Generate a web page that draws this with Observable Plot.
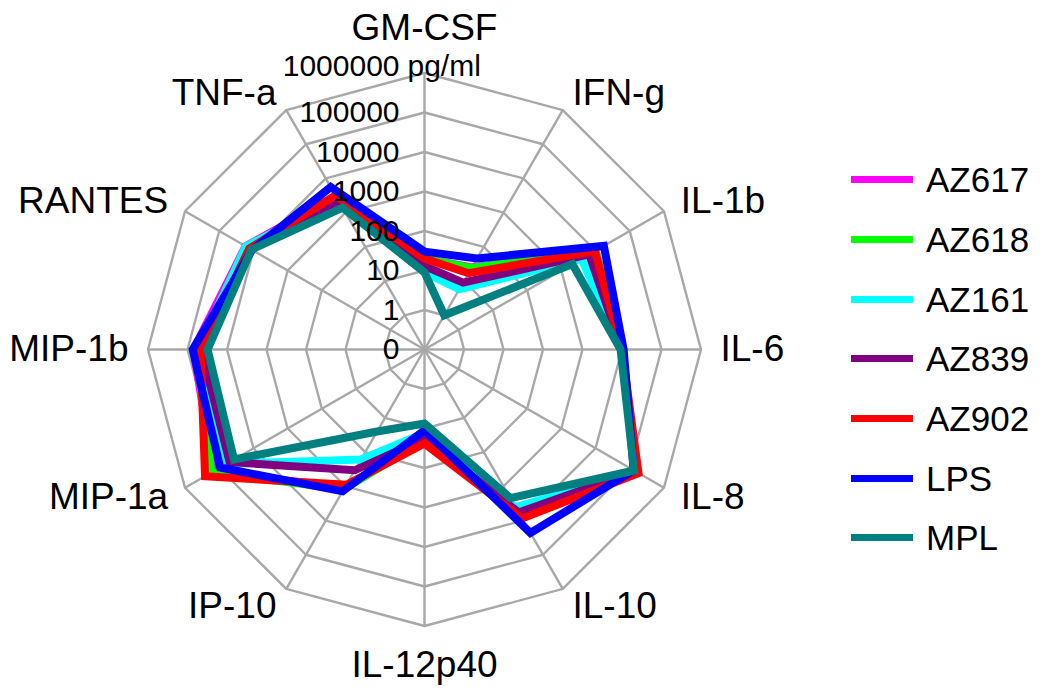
<!DOCTYPE html>
<html>
<head>
<meta charset="utf-8">
<script src="https://cdn.jsdelivr.net/npm/d3@7"></script>
<script src="https://cdn.jsdelivr.net/npm/@observablehq/plot@0.6"></script>
<style>
  body { margin: 0; background: #fff; }
  #wrap { position: relative; width: 1050px; height: 692px; font-family: "Liberation Sans", Arial, sans-serif; }
  #legend { position: absolute; left: 851px; top: 150px; }
  .row { position: relative; height: 59.7px; display: flex; align-items: center; }
  .sw { width: 62px; height: 7px; margin-right: 13px; }
  .lab { font-size: 35px; color: #000; line-height: 1; }
</style>
</head>
<body>
<div id="wrap"><div id="chart"></div><div id="legend"></div></div>
<script>
const axes = ["GM-CSF","IFN-g","IL-1b","IL-6","IL-8","IL-10","IL-12p40","IP-10","MIP-1a","MIP-1b","RANTES","TNF-a"];
const series = ["AZ617","AZ618","AZ161","AZ839","AZ902","LPS","MPL"];
const colors = ["#ff00ff","#00ff00","#00ffff","#800080","#ff0000","#0000ff","#008080"];
const tickValues = [0.1, 1, 10, 100, 1000, 10000, 100000, 1000000];
const tickLabels = ["0","1","10","100","1000","10000","100000","1000000"];
const unitLabel = "pg/ml";

const AZ617 = [20, 25, 10000, 10000, 160000, 8000, 20, 1100, 150000, 70000, 17000, 3000];
const AZ618 = [20, 24, 10000, 10000, 160000, 8500, 20, 1200, 170000, 60000, 14000, 2800];
const AZ161 = [9, 5.8, 3900, 10000, 150000, 4100, 13, 165, 62000, 55000, 16700, 2500];
const AZ839 = [13, 9, 6500, 10000, 145000, 5800, 18, 340, 50000, 45000, 13000, 2000];
const AZ902 = [20, 17, 9600, 10000, 180000, 8700, 24, 900, 260000, 47000, 13000, 3200];
const LPS   = [30, 46, 17500, 11000, 130000, 23000, 11, 1400, 94000, 74000, 11000, 5600];
const MPL   = [9, 1, 2100, 9200, 134000, 2200, 7.5, 25, 37000, 31000, 11500, 1400];
const values = [AZ617, AZ618, AZ161, AZ839, AZ902, LPS, MPL];

// radial scale: log10 value -> radius
const R = d3.scaleLinear().domain([-1, 6]).range([0, 276.5]);
const rad = v => R(Math.log10(v));
const ang = i => i * 2 * Math.PI / axes.length;
const px = (r, i) => r * Math.sin(ang(i));
const py = (r, i) => r * Math.cos(ang(i));

const rows = [];
series.forEach((s, k) => values[k].forEach((v, i) => rows.push({series: s, i, value: v})));

const rings = [];
tickValues.slice(1).forEach(v => axes.forEach((a, i) => rings.push({v, i})));

const axisRows = axes.map((a, i) => ({a, i}));
const labelR = 296;
const startLab = axisRows.filter(d => d.i > 0 && d.i < 6);
const endLab = axisRows.filter(d => d.i > 6);
const topLab = axisRows.filter(d => d.i === 0);
const botLab = axisRows.filter(d => d.i === 6);
const outer = tickValues[tickValues.length - 1];

const font = "Liberation Sans, Arial, sans-serif";
const txt = {fontFamily: font, fill: "#000"};
const gridColor = "#a8a8a8";

const chart = Plot.plot({
  width: 1050, height: 692,
  margin: 0,
  x: {domain: [-424, 626], axis: null},
  y: {domain: [-343, 349], axis: null},
  color: {domain: series, range: colors},
  style: {fontFamily: font, background: "#fff"},
  marks: [
    Plot.line(rings, {x: d => px(rad(d.v), d.i), y: d => py(rad(d.v), d.i), z: "v",
      curve: "linear-closed", stroke: gridColor, strokeWidth: 2.4}),
    Plot.link(axisRows, {x1: () => 0, y1: () => 0, x2: d => px(rad(outer), d.i), y2: d => py(rad(outer), d.i),
      stroke: gridColor, strokeWidth: 2.4}),
    Plot.line(rows, {x: d => px(rad(d.value), d.i), y: d => py(rad(d.value), d.i), z: "series",
      stroke: "series", strokeWidth: 8, curve: "linear-closed", strokeLinejoin: "miter", strokeMiterlimit: 10}),
    Plot.text(tickValues.slice(0, -1), {x: () => 0, y: d => rad(d), text: (d, j) => tickLabels[j],
      textAnchor: "end", dx: -25, fontSize: 30, ...txt}),
    Plot.text([outer], {x: () => 0, y: d => rad(d), text: () => tickLabels[tickLabels.length - 1],
      textAnchor: "end", dx: -25, dy: -7, fontSize: 30, ...txt}),
    Plot.text([outer], {x: () => 0, y: d => rad(d), text: () => unitLabel,
      textAnchor: "start", dx: -17, dy: -7, fontSize: 30, ...txt}),
    Plot.text(startLab, {x: d => px(labelR, d.i), y: d => py(labelR, d.i), text: "a", textAnchor: "start", fontSize: 37, ...txt}),
    Plot.text(endLab, {x: d => px(labelR, d.i), y: d => py(labelR, d.i), text: "a", textAnchor: "end", fontSize: 37, ...txt}),
    Plot.text(topLab, {x: d => px(labelR, d.i), y: d => py(labelR, d.i), text: "a", textAnchor: "middle", dy: -25, fontSize: 37, ...txt}),
    Plot.text(botLab, {x: d => px(labelR, d.i), y: d => py(labelR, d.i), text: "a", textAnchor: "middle", dy: 20, fontSize: 37, ...txt})
  ]
});
document.getElementById("chart").appendChild(chart);

const legend = d3.select("#legend");
series.forEach((s, k) => {
  const row = legend.append("div").attr("class", "row");
  row.append("div").attr("class", "sw").style("background", colors[k]);
  row.append("div").attr("class", "lab").text(s);
});
</script>
</body>
</html>
